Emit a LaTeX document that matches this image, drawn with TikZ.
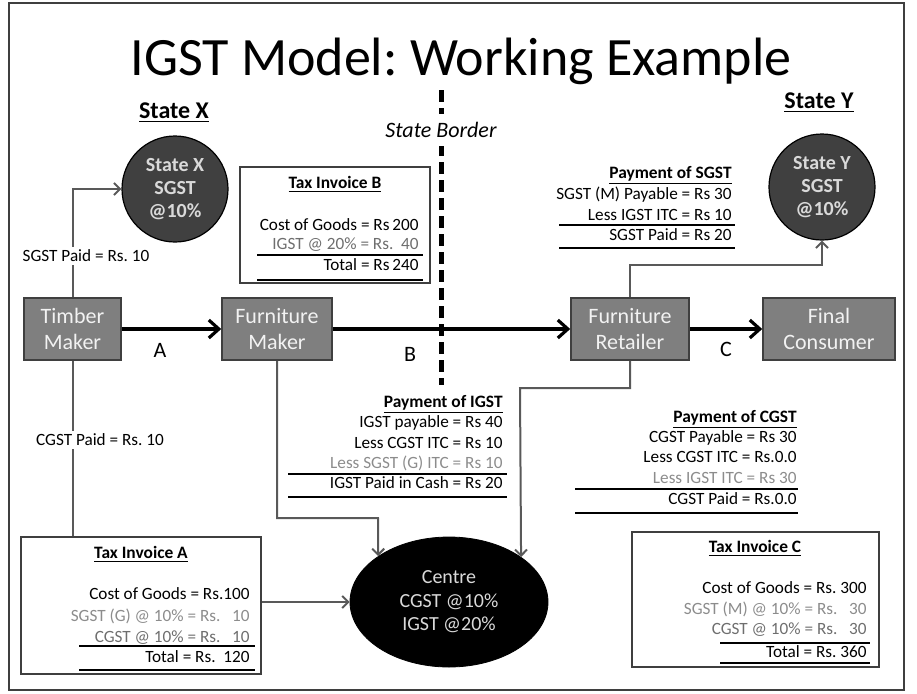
\documentclass[tikz,border=0pt]{standalone}
\usepackage{fontspec}
\setmainfont{Carlito}
\usepackage{xcolor}
\usetikzlibrary{shapes,shapes.geometric,arrows.meta,calc,positioning}
\definecolor{boxfill}{HTML}{7F7F7F}
\definecolor{boxline}{HTML}{3F3F3F}
\definecolor{boxtext}{HTML}{F2F2F2}
\definecolor{darkfill}{HTML}{404040}
\definecolor{lighttext}{HTML}{D9D9D9}
\definecolor{linkgray}{HTML}{595959}
\definecolor{fadetext}{HTML}{8C8C8C}
\definecolor{midtext}{HTML}{6E6E6E}
\frenchspacing

\begin{document}
\begin{tikzpicture}[x=0.5pt,y=-0.5pt]
	\tikzstyle{firm}=[rectangle, draw=boxline, line width=0.8pt, fill=boxfill, text=boxtext, align=center, inner sep=0pt, minimum height=31pt, font=\fontsize{11}{13}\selectfont]
	\tikzstyle{state}=[circle, draw=black, line width=0.6pt, fill=darkfill, text=lighttext, align=center, minimum size=53pt, inner sep=0pt, font=\bfseries\fontsize{10}{11.5}\selectfont]
	\tikzstyle{invoice}=[rectangle, draw=boxline, line width=0.8pt, inner sep=0pt]
	\tikzstyle{row}=[anchor=base east, inner sep=0pt, font=\fontsize{8.6}{10}\selectfont]
	\tikzstyle{head}=[anchor=base, inner sep=0pt, font=\bfseries\fontsize{8.7}{10}\selectfont]
	\tikzstyle{rule}=[line width=0.7pt]
	\tikzstyle{flow}=[line width=1.6pt, -{Straight Barb[length=5pt,width=9pt]}]
	\tikzstyle{link}=[draw=linkgray, line width=1pt, -{Straight Barb[length=3pt,width=6pt]}]
	\tikzstyle{paid}=[fill=white, inner sep=1.5pt, font=\fontsize{8.6}{10}\selectfont]
	\tikzstyle{letter}=[font=\fontsize{11}{13}\selectfont]

	\useasboundingbox (0,0) rectangle (917,693);
	\draw[boxline, line width=0.8pt] (9,3) rectangle (904,690);

	% title and states
	\node[anchor=base, font=\fontsize{27}{30}\selectfont] (title) at (461,75) {IGST Model: Working Example};
	\node[anchor=base, font=\bfseries\fontsize{12}{14}\selectfont] (hx) at (174,118) {\underline{State X}};
	\node[anchor=base, font=\bfseries\fontsize{12}{14}\selectfont] (hy) at (819,108) {\underline{State Y}};
	\draw[line width=2.5pt, dash pattern=on 6pt off 3pt] (441,90) -- (441,385);
	\node[fill=white, inner xsep=2pt, inner ysep=4pt, font=\itshape\fontsize{11}{13}\selectfont] (border) at (441,130) {State Border};

	\node[state] (stx) at (175,189) {State X\\SGST\\@10\%};
	\node[state] (sty) at (822,187) {State Y\\SGST\\@10\%};
	\node[ellipse, fill=black, draw=black, text=lighttext, minimum width=99pt, minimum height=65pt, inner sep=0pt, align=center, font=\fontsize{10}{11.7}\selectfont] (centre) at (449,602) {Centre\\CGST @10\%\\IGST @20\%};

	% supply chain
	\node[firm, minimum width=48.5pt] (timber) at (72.5,329) {Timber\\Maker};
	\node[firm, minimum width=55pt] (fmaker) at (277,329) {Furniture\\Maker};
	\node[firm, minimum width=59pt] (retailer) at (630,329) {Furniture\\Retailer};
	\node[firm, minimum width=66pt] (consumer) at (829,329) {Final\\Consumer};
	\draw[flow] (timber.east) -- (fmaker.west);
	\draw[flow] (fmaker.east) -- (retailer.west);
	\draw[flow] (retailer.east) -- (consumer.west);
	\node[letter] (la) at (160,350) {A};
	\node[letter] (lb) at (410,354) {B};
	\node[letter] (lc) at (726,349) {C};

	% invoices
	\node[invoice, minimum width=95pt, minimum height=58pt] (invb) at (335,225) {};
	\node[invoice, minimum width=120pt, minimum height=68.5pt] (inva) at (141,605.5) {};
	\node[invoice, minimum width=123.5pt, minimum height=67.5pt] (invc) at (755.5,599.5) {};

	% tax flows
	\draw[link] (timber.north) |- (stx);
	\node[paid] (sgstx) at (86,256) {SGST Paid = Rs. 10};
	\draw[link, -] (timber.south) -- (timber.south |- inva.north);
	\node[paid] (cgstx) at (100,440) {CGST Paid = Rs. 10};
	\draw[link] (inva.east |- centre) -- (centre);
	\coordinate (j1) at (378,518);
	\draw[link] (fmaker.south) |- (j1) -- (centre.147.6);
	\coordinate (j2) at (520,388);
	\draw[link] (retailer.south) |- (j2) -- (centre.32.4);
	\coordinate (j3) at (822,265);
	\draw[link] (retailer.north) |- (j3) -- (sty);

	% Tax Invoice B
	\node[head] (tb) at (335,188) {\underline{Tax Invoice B}};
	\node[row] (tb1) at (419,230) {Cost of Goods = Rs\,200};
	\node[row, text=midtext] (tb2) at (419,249) {IGST @ 20\% = Rs.\ \ 40};
	\node[row] (tb3) at (419,270) {Total = Rs\,240};
	\draw[rule] (257,255) -- (423,255);
	\draw[rule] (257,280) -- (423,280);

	% Tax Invoice A
	\node[head] (ta) at (141,558) {\underline{Tax Invoice A}};
	\node[row] (ta1) at (250,599) {Cost of Goods = Rs.100};
	\node[row, text=fadetext] (ta2) at (250,621) {SGST (G) @ 10\% = Rs.\ \ \ 10};
	\node[row, text=midtext] (ta3) at (250,642) {CGST @ 10\% = Rs.\ \ \ 10};
	\node[row] (ta4) at (250,662) {Total = Rs.\ \ 120};
	\draw[rule] (79,646) -- (255,646);
	\draw[rule] (79,670) -- (255,670);

	% Tax Invoice C
	\node[head] (tc) at (755,552) {\underline{Tax Invoice C}};
	\node[row] (tc1) at (867,593) {Cost of Goods = Rs. 300};
	\node[row, text=fadetext] (tc2) at (867,614) {SGST (M) @ 10\% = Rs.\ \ \ 30};
	\node[row, text=midtext] (tc3) at (867,634) {CGST @ 10\% = Rs.\ \ \ 30};
	\node[row] (tc4) at (867,657) {Total = Rs. 360};
	\draw[rule] (720,643) -- (870,643);
	\draw[rule] (720,663) -- (870,663);

	% Payment of IGST
	\node[head, anchor=base east] (pi) at (503,407) {\underline{Payment of IGST}};
	\node[row] (pi1) at (503,427) {IGST payable = Rs 40};
	\node[row] (pi2) at (503,448) {Less CGST ITC = Rs 10};
	\node[row, text=fadetext] (pi3) at (503,468) {Less SGST (G) ITC = Rs 10};
	\node[row] (pi4) at (503,488) {IGST Paid in Cash = Rs 20};
	\draw[rule] (288,474) -- (507,474);
	\draw[rule] (288,497) -- (507,497);

	% Payment of SGST
	\node[head, anchor=base east] (ps) at (732,178) {\underline{Payment of SGST}};
	\node[row] (ps1) at (732,199) {SGST (M) Payable = Rs 30};
	\node[row] (ps2) at (732,220) {Less IGST ITC = Rs 10};
	\node[row] (ps3) at (732,240) {SGST Paid = Rs 20};
	\draw[rule] (559,225) -- (735,225);
	\draw[rule] (559,248) -- (735,248);

	% Payment of CGST
	\node[head, anchor=base east] (pc) at (797,422) {\underline{Payment of CGST}};
	\node[row] (pc1) at (797,442) {CGST Payable = Rs 30};
	\node[row] (pc2) at (797,462) {Less CGST ITC = Rs.0.0};
	\node[row, text=fadetext] (pc3) at (797,483) {Less IGST ITC = Rs 30};
	\node[row] (pc4) at (797,504) {CGST Paid = Rs.0.0};
	\draw[rule] (575,489) -- (798,489);
	\draw[rule] (575,513) -- (798,513);
\end{tikzpicture}
\end{document}
